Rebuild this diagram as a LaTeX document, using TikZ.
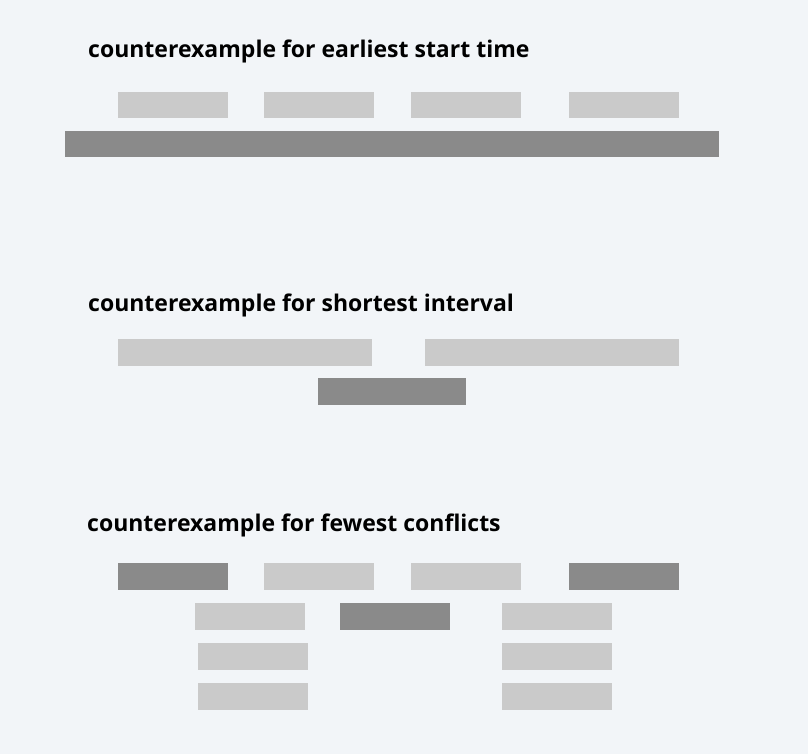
\documentclass[tikz,border=0pt]{standalone}
\usepackage{fontspec}
\setmainfont{Open Sans}
\usetikzlibrary{positioning}
\definecolor{bgcol}{HTML}{F2F5F8}
\definecolor{lightbar}{HTML}{CACACA}
\definecolor{darkbar}{HTML}{8A8A8A}
\tikzset{
  title/.style={anchor=base west, inner sep=0pt, font=\bfseries\fontsize{23}{27}\selectfont},
  light/.style={fill=lightbar},
  dark/.style={fill=darkbar}
}
\begin{document}
\begin{tikzpicture}[x=1pt,y=-1pt]
			\fill[bgcol] (0, 0) rectangle (808, 754);
			\useasboundingbox (0, 0) rectangle (808, 754);
			% earliest start time
			\node[title] (est) at (88, 57.3) {counterexample for earliest start time};
			\foreach \x in {118, 264, 411, 569}
				\fill[light] (\x, 92) rectangle +(110, 26.5);
			\fill[dark] (65, 131) rectangle (719, 157.5);
			% shortest interval
			\node[title] (si) at (88, 311) {counterexample for shortest interval};
			\fill[light] (118, 339) rectangle (372, 365.5);
			\fill[light] (425, 339) rectangle (679, 365.5);
			\fill[dark] (318, 378) rectangle (466, 404.5);
			% fewest conflicts
			\node[title] (fc) at (87, 531.5) {counterexample for fewest conflicts};
			\fill[dark] (118, 563) rectangle +(110, 26.5);
			\fill[light] (264, 563) rectangle +(110, 26.5);
			\fill[light] (411, 563) rectangle +(110, 26.5);
			\fill[dark] (569, 563) rectangle +(110, 26.5);
			\fill[light] (195, 603) rectangle +(110, 26.5);
			\fill[dark] (340, 603) rectangle +(110, 26.5);
			\foreach \y in {603, 643, 683}
				\fill[light] (502, \y) rectangle +(110, 26.5);
			\foreach \y in {643, 683}
				\fill[light] (198, \y) rectangle +(110, 26.5);
		\end{tikzpicture}
\end{document}
